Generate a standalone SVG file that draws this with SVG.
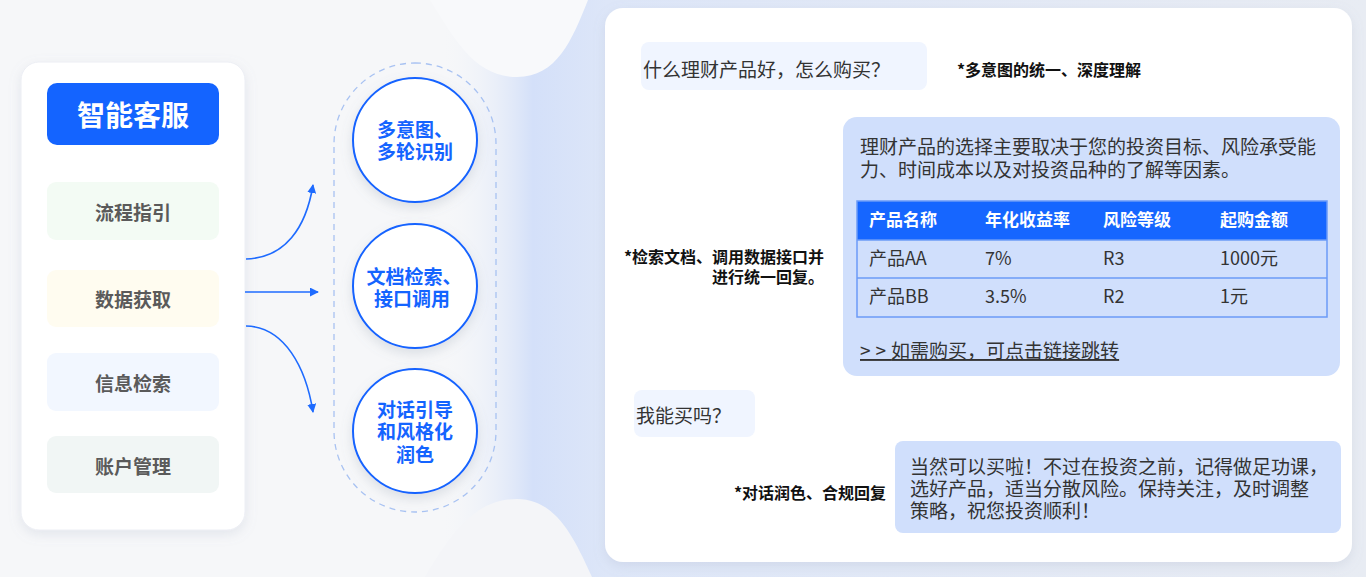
<svg xmlns="http://www.w3.org/2000/svg" width="1366" height="577" viewBox="0 0 1366 577">
<defs>
<linearGradient id="glow" x1="440" y1="0" x2="1366" y2="0" gradientUnits="userSpaceOnUse">
<stop offset="0" stop-color="#F6F7F9" stop-opacity="0"/>
<stop offset="0.1" stop-color="#D4E0F9"/>
<stop offset="0.18" stop-color="#DDE6F8"/>
<stop offset="1" stop-color="#E8ECF3"/>
</linearGradient>
<filter id="sh" x="-20%" y="-20%" width="140%" height="140%">
<feDropShadow dx="0" dy="4" stdDeviation="6" flood-color="#8A96B0" flood-opacity="0.18"/>
</filter>
<filter id="csh" x="-30%" y="-30%" width="160%" height="160%">
<feDropShadow dx="0" dy="5" stdDeviation="6" flood-color="#7D8799" flood-opacity="0.22"/>
</filter>
<marker id="ah" viewBox="0 0 10 10" refX="9" refY="5" markerWidth="9" markerHeight="9" markerUnits="userSpaceOnUse" orient="auto">
<path d="M0,0 L10,5 L0,10 Z" fill="#1E6BFF"/>
</marker>
<style>
text{font-family:"Noto Sans CJK SC","Noto Sans",sans-serif}
.item{font-size:19px;font-weight:700;fill:#5A5A5A;text-anchor:middle}
.ctext{font-size:19px;font-weight:700;fill:#1464FF;text-anchor:middle}
.chat{font-size:19px;fill:#333}
.note{font-size:16px;font-weight:700;fill:#111}
.th{font-size:17px;font-weight:700;fill:#fff}
.td{font-size:18px;fill:#333}
.circle{fill:#fff;stroke:#1464FF;stroke-width:2}
.conn{fill:none;stroke:#1E6BFF;stroke-width:1.6}
.userb{fill:#F0F5FF}
.botb{fill:#D0DFFC}
</style>
</defs>

<!-- background -->
<rect x="0" y="0" width="1366" height="577" fill="#F6F7F9"/>
<rect x="440" y="0" width="926" height="577" fill="url(#glow)"/>
<path d="M430 0 C455 40 475 77 517 77 C557 77 572 40 588 0 Z" fill="#F8F9FB"/>
<path d="M425 577 C455 525 480 499 517 499 C557 499 575 540 592 577 Z" fill="#F4F5F8"/>

<!-- left panel -->
<g id="left-panel">
<rect x="21" y="62" width="224" height="468" rx="18" fill="#fff" stroke="#ECEEF4" stroke-width="1" filter="url(#sh)"/>
</g>
<g id="title">
<rect x="47" y="83" width="172" height="62" rx="10" fill="#1464FF"/>
<text x="133" y="126" font-size="28" font-weight="700" fill="#fff" text-anchor="middle">智能客服</text>
</g>
<g id="item1">
<rect x="47" y="182" width="172" height="58" rx="9" fill="#F3FBF4"/>
<text class="item" x="133" y="220">流程指引</text>
</g>
<g id="item2">
<rect x="47" y="270" width="172" height="57" rx="9" fill="#FFFCF0"/>
<text class="item" x="133" y="307">数据获取</text>
</g>
<g id="item3">
<rect x="47" y="353" width="172" height="58" rx="9" fill="#F2F7FF"/>
<text class="item" x="133" y="391">信息检索</text>
</g>
<g id="item4">
<rect x="47" y="436" width="172" height="57" rx="9" fill="#F1F6F5"/>
<text class="item" x="133" y="474">账户管理</text>
</g>

<!-- connectors -->
<g id="connectors">
<path class="conn" d="M246 259 C285 258 306 228 313 185" marker-end="url(#ah)"/>
<path class="conn" d="M245 292 L318 292" marker-end="url(#ah)"/>
<path class="conn" d="M246 326 C285 327 306 368 313 412" marker-end="url(#ah)"/>
</g>

<!-- dashed pill -->
<g id="capabilities">
<rect x="334" y="63" width="162" height="449" rx="81" fill="none" stroke="#A8C2F2" stroke-width="1.3" stroke-dasharray="6 5"/>
</g>
<g id="cap1">
<circle class="circle" cx="415" cy="140" r="62" filter="url(#csh)"/>
<text class="ctext"><tspan x="415" y="137">多意图、</tspan><tspan x="415" y="159">多轮识别</tspan></text>
</g>
<g id="cap2">
<circle class="circle" cx="415" cy="286" r="62" filter="url(#csh)"/>
<text class="ctext"><tspan x="414" y="284">文档检索、</tspan><tspan x="412" y="306">接口调用</tspan></text>
</g>
<g id="cap3">
<circle class="circle" cx="415" cy="431" r="62" filter="url(#csh)"/>
<text class="ctext"><tspan x="415" y="417">对话引导</tspan><tspan x="415" y="439">和风格化</tspan><tspan x="415" y="462">润色</tspan></text>
</g>

<!-- right chat panel -->
<g id="chat-panel">
<rect x="605" y="8" width="747" height="554" rx="18" fill="#fff" filter="url(#sh)"/>
</g>
<g id="q1">
<rect class="userb" x="641" y="42" width="286" height="48" rx="8"/>
<text class="chat" x="643" y="77">什么理财产品好，怎么购买？</text>
</g>
<g id="note1">
<text class="note" x="957" y="76">*多意图的统一、深度理解</text>
</g>
<g id="a1">
<rect class="botb" x="843" y="117" width="497" height="259" rx="14"/>
<text class="chat"><tspan x="860" y="154">理财产品的选择主要取决于您的投资目标、风险承受能</tspan><tspan x="860" y="177">力、时间成本以及对投资品种的了解等因素。</tspan></text>
<rect x="857" y="201" width="470" height="39" fill="#1666FF"/>
<rect x="857" y="201" width="470" height="116" fill="none" stroke="#6B9BF7" stroke-width="1.5"/>
<line x1="857" y1="240" x2="1327" y2="240" stroke="#6B9BF7" stroke-width="1.5"/>
<line x1="857" y1="278" x2="1327" y2="278" stroke="#6B9BF7" stroke-width="1.5"/>
<text class="th" x="869" y="226">产品名称</text>
<text class="th" x="985" y="226">年化收益率</text>
<text class="th" x="1103" y="226">风险等级</text>
<text class="th" x="1220" y="226">起购金额</text>
<text class="td" x="869" y="265">产品AA</text>
<text class="td" x="985" y="265">7%</text>
<text class="td" x="1103" y="265">R3</text>
<text class="td" x="1220" y="265">1000元</text>
<text class="td" x="869" y="303">产品BB</text>
<text class="td" x="985" y="303">3.5%</text>
<text class="td" x="1103" y="303">R2</text>
<text class="td" x="1220" y="303">1元</text>
<text class="chat" x="860" y="358" fill="#444" text-decoration="underline"><tspan letter-spacing="5">&gt;&gt;</tspan>如需购买，可点击链接跳转</text>
</g>
<g id="note2">
<text class="note" text-anchor="end"><tspan x="824" y="263">*检索文档、调用数据接口并</tspan><tspan x="824" y="283">进行统一回复。</tspan></text>
</g>
<g id="q2">
<rect class="userb" x="634" y="390" width="121" height="47" rx="8"/>
<text class="chat" x="636" y="423">我能买吗？</text>
</g>
<g id="a2">
<rect class="botb" x="895" y="441" width="446" height="92" rx="8"/>
<text class="chat"><tspan x="910" y="474">当然可以买啦！不过在投资之前，记得做足功课，</tspan><tspan x="910" y="496">选好产品，适当分散风险。保持关注，及时调整</tspan><tspan x="910" y="518">策略，祝您投资顺利！</tspan></text>
</g>
<g id="note3">
<text class="note" x="886" y="499" text-anchor="end">*对话润色、合规回复</text>
</g>
</svg>
